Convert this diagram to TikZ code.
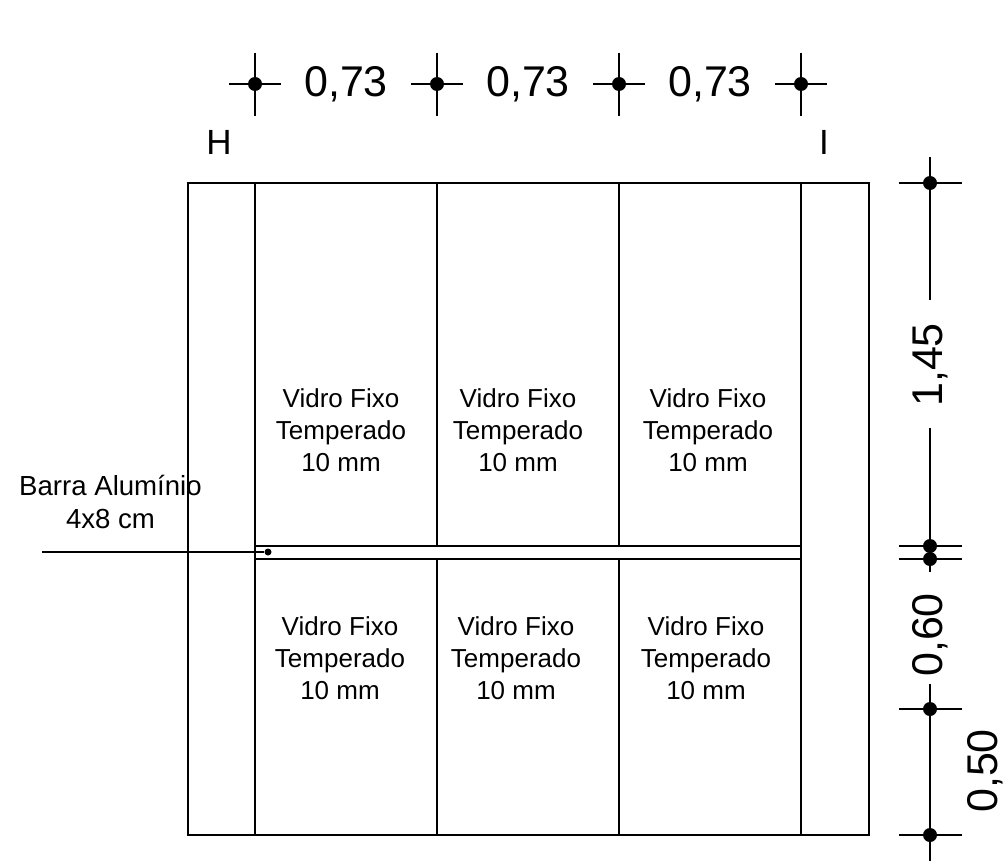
\documentclass[tikz,border=0pt]{standalone}
\usepackage{fontspec}
\setmainfont{Liberation Sans}
\newcommand{\fsz}[1]{\fontsize{#1}{#1}\selectfont}
\tikzset{
  x=1pt,y=-1pt,
  ln/.style={line width=1.5pt,black},
  dimdot/.style={circle,fill=black,draw=none,minimum size=14pt,inner sep=0pt},
  smalldot/.style={circle,fill=black,draw=none,minimum size=7pt,inner sep=0pt},
  dimtxt/.style={font=\fsz{43},inner sep=0pt,text=black},
  axistxt/.style={font=\fsz{35},inner sep=0pt,text=black},
  note/.style={font=\fsz{26},align=center,inner sep=0pt,text=black},
  barnote/.style={font=\fsz{27.6},align=center,inner sep=0pt,text=black},
}
\begin{document}
\begin{tikzpicture}
\useasboundingbox (0,0) rectangle (1008,861);
% frame
\coordinate (tl) at (188,183); \coordinate (br) at (869,835);
\draw[ln] (tl) rectangle (br);
\foreach \n/\x in {a/255,d/801}{
  \coordinate (\n t) at (\x,183); \coordinate (\n b) at (\x,835);
  \draw[ln] (\n t) -- (\n b);
}
\foreach \n/\x in {b/437,c/619}{
  \coordinate (\n t) at (\x,183); \coordinate (\n u) at (\x,546);
  \coordinate (\n l) at (\x,559); \coordinate (\n b) at (\x,835);
  \draw[ln] (\n t) -- (\n u); \draw[ln] (\n l) -- (\n b);
}
% bar
\coordinate (b1l) at (255,546); \coordinate (b1r) at (801,546);
\coordinate (b2l) at (255,559); \coordinate (b2r) at (801,559);
\draw[ln] (b1l) -- (b1r); \draw[ln] (b2l) -- (b2r);
% top dimension
\foreach \n/\x in {ta/255,tb/437,tc/619,td/801}{
  \node[dimdot] (\n) at (\x,84) {};
  \draw[ln] (\x,53) -- (\n) -- (\x,116);
  \draw[ln] (\x-26,84) -- (\n) -- (\x+26,84);
}
\node[dimtxt] (d1) at (346,84) {0,73};
\node[dimtxt] (d2) at (528,84) {0,73};
\node[dimtxt] (d3) at (710,84) {0,73};
\node[axistxt] (H) at (219,142) {H};
\node[axistxt] (I) at (824,142) {I};
% right dimension
\foreach \n/\y in {ra/183,rb/546,rc/559,rd/709,re/835}{
  \node[dimdot] (\n) at (930,\y) {};
  \draw[ln] (899,\y) -- (\n) -- (962,\y);
}
\node[dimtxt,rotate=90] (v1) at (930,365) {1,45};
\node[dimtxt,rotate=90] (v2) at (930,635) {0,60};
\node[dimtxt,rotate=90] (v3) at (985,771) {0,50};
\coordinate (s1) at (930,157); \coordinate (s2) at (930,300);
\coordinate (s3) at (930,428); \coordinate (s4) at (930,572);
\coordinate (s5) at (930,684); \coordinate (s6) at (930,861);
\draw[ln] (s1) -- (s2); \draw[ln] (s3) -- (s4); \draw[ln] (s5) -- (s6);
% glass labels
\node[note] (g1) at (341,430) {Vidro Fixo\\[6pt]Temperado\\[6pt]10 mm};
\node[note] (g2) at (518,430) {Vidro Fixo\\[6pt]Temperado\\[6pt]10 mm};
\node[note] (g3) at (708,430) {Vidro Fixo\\[6pt]Temperado\\[6pt]10 mm};
\node[note] (g4) at (340,658) {Vidro Fixo\\[6pt]Temperado\\[6pt]10 mm};
\node[note] (g5) at (516,658) {Vidro Fixo\\[6pt]Temperado\\[6pt]10 mm};
\node[note] (g6) at (706,658) {Vidro Fixo\\[6pt]Temperado\\[6pt]10 mm};
% leader
\node[barnote] (bar) at (110.5,502) {Barra Alumínio\\[6pt]4x8 cm};
\node[smalldot] (ld) at (268,552) {};
\coordinate (lf) at (42,552);
\draw[ln] (lf) -- (ld);
\end{tikzpicture}
\end{document}
